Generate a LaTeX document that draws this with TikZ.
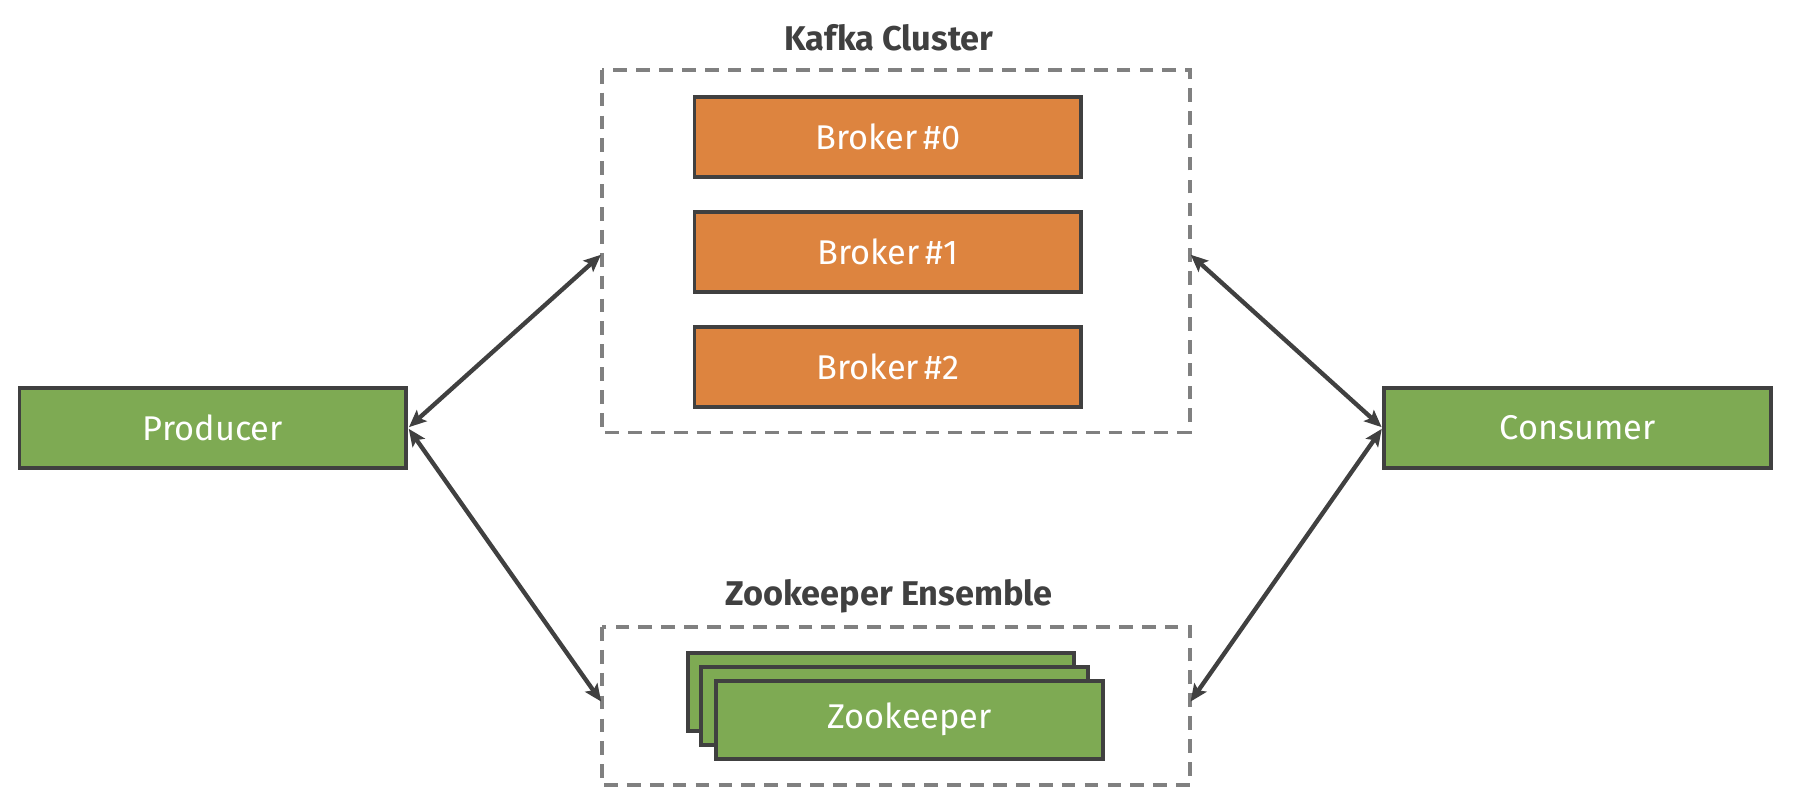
\documentclass[tikz,border=0pt]{standalone}
\usepackage{fontspec}
\setmainfont{Fira Sans}
\usetikzlibrary{arrows.meta}
\definecolor{kor}{RGB}{221,132,63}
\definecolor{kgr}{RGB}{126,170,83}
\definecolor{kdk}{RGB}{64,64,64}
\definecolor{kgy}{RGB}{128,128,128}
\tikzset{
  box/.style={draw=kdk, line width=3.4pt, minimum width=338pt, minimum height=70pt, text=white, font=\fontsize{30}{34}\selectfont, inner sep=0pt},
  orangebox/.style={box, fill=kor},
  greenbox/.style={box, fill=kgr},
  group/.style={draw=kgy, line width=3pt, dash pattern=on 12pt off 8pt},
  title/.style={text=kdk, font=\bfseries\fontsize{30}{34}\selectfont},
  link/.style={draw=kdk, line width=3.8pt, {Stealth[length=15pt,width=13pt,inset=3pt]}-{Stealth[length=15pt,width=13pt,inset=3pt]}, shorten <=1pt, shorten >=1pt}
}
\begin{document}
\begin{tikzpicture}[x=1pt,y=-1pt]
\useasboundingbox (0,0) rectangle (1568,708);
% groups
\draw[group] (526,61) rectangle (1040,378);
\coordinate (kw) at (526,222);
\coordinate (ke) at (1040,222);
\draw[group] (526,548) rectangle (1040,686);
\coordinate (zw) at (526,614);
\coordinate (ze) at (1040,614);
\node[title] (kt) at (777,33) {Kafka Cluster};
\node[title] (zt) at (777,521) {Zookeeper Ensemble};
% brokers
\node[orangebox] (b0) at (776,120) {Broker\,\#0};
\node[orangebox] (b1) at (776,220) {Broker\,\#1};
\node[orangebox] (b2) at (776,321) {Broker\,\#2};
% zookeepers
\node[greenbox, minimum height=68pt] (z3) at (770,605) {};
\node[greenbox, minimum height=68pt] (z2) at (782,617) {};
\node[greenbox, minimum height=68pt] (z1) at (795,629) {Zookeeper};
% clients
\node[greenbox] (p) at (186,374) {Producer};
\node[greenbox] (c) at (1379,374) {Consumer};
% links
\draw[link] (p.east) -- (kw);
\draw[link] (p.east) -- (zw);
\draw[link] (c.west) -- (ke);
\draw[link] (c.west) -- (ze);
\end{tikzpicture}
\end{document}
